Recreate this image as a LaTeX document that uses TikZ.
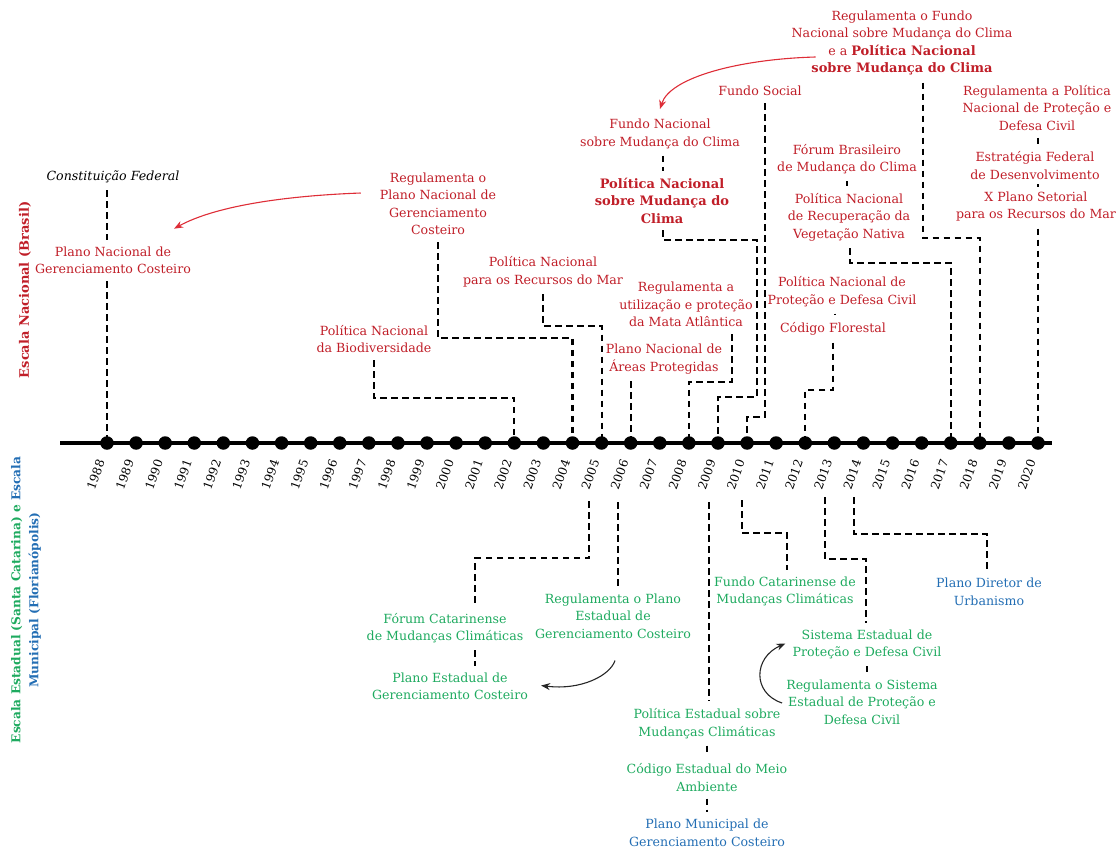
\documentclass[tikz,border=0pt]{standalone}
\usepackage{fontspec}
\setmainfont{DejaVu Serif}
\usetikzlibrary{calc,arrows.meta}
\pgfdeclarelayer{bg}
\pgfsetlayers{bg,main}
\definecolor{natred}{RGB}{192,30,40}
\definecolor{arrred}{RGB}{222,45,55}
\definecolor{estgreen}{RGB}{30,170,95}
\definecolor{munblue}{RGB}{35,110,180}
\newcommand\lblfont{\fontsize{12.6}{17.5}\selectfont}
\newcommand\bigbf[1]{{\fontsize{13}{17.5}\selectfont\bfseries #1}}
\tikzset{
  lbl/.style={align=center, inner sep=1pt, font=\lblfont},
  nat/.style={lbl, text=natred},
  est/.style={lbl, text=estgreen},
  mun/.style={lbl, text=munblue},
  conn/.style={line width=2.2pt, dash pattern=on 6.5pt off 4.5pt, shorten <=6pt, shorten >=6pt},
  axisline/.style={line width=4pt},
  yrlbl/.style={rotate=70, anchor=east, inner sep=0pt, font=\fontsize{12}{14}\selectfont},
  yrdot/.style={circle, fill=black, inner sep=0pt, minimum size=13.5pt},
  redarr/.style={draw=arrred, line width=1.1pt, -{Stealth[length=9pt,width=7pt]}},
  blkarr/.style={draw=black!85, line width=1.1pt, -{Stealth[length=9pt,width=7pt]}},
}
\begin{document}
\begin{tikzpicture}[x=1pt,y=-1pt]
\useasboundingbox (0,0) rectangle (1117,849);

% timeline: years, dots and labels
\foreach \yr [count=\i from 0] in {1988,...,2020}{
  \coordinate (y\yr) at ({107+\i*29.094},443);
  \node[yrdot] (d\yr) at (y\yr) {};
  \node[yrlbl] (l\yr) at ({101+\i*29.094},460) {\yr};
}
\coordinate (axL) at (60,443);
\coordinate (axR) at (1052,443);

% side titles
\node[rotate=90, text=natred, font=\fontsize{13}{17.5}\selectfont\bfseries] (scnat) at (25,290) {Escala Nacional (Brasil)};
\node[rotate=90, align=center, font=\fontsize{12.2}{18}\selectfont\bfseries] (scest) at (26,600)
  {\textcolor{estgreen}{Escala Estadual (Santa Catarina) e} \textcolor{munblue}{Escala}\\\textcolor{munblue}{Municipal (Florianópolis)}};

% national scale
\node[lbl, font=\lblfont\itshape] (const) at (113,177) {Constituição Federal};
\node[nat] (pngc) at (113,260.5) {Plano Nacional de\\Gerenciamento Costeiro};
\node[nat] (regpngc) at (438,204) {Regulamenta o\\Plano Nacional de\\Gerenciamento\\Costeiro};
\node[nat] (bio) at (374,339) {Política Nacional\\da Biodiversidade};
\node[nat] (mar) at (543,272) {Política Nacional\\para os Recursos do Mar};
\node[nat] (areas) at (664,359) {Plano Nacional de\\Áreas Protegidas};
\node[nat] (mata) at (686,304.5) {Regulamenta a\\utilização e proteção\\da Mata Atlântica};
\node[nat] (fnmc) at (660,134) {Fundo Nacional\\sobre Mudança do Clima};
\node[nat, font=\fontsize{13}{17.5}\selectfont\bfseries] (pnmc) at (662,200.5) {Política Nacional\\sobre Mudança do\\Clima};
\node[nat] (social) at (760,91) {Fundo Social};
\node[nat] (regfundo) at (902,43) {Regulamenta o Fundo\\Nacional sobre Mudança do Clima\\e a \bigbf{Política Nacional}\\\bigbf{sobre Mudança do Clima}};
\node[nat] (forumbr) at (847,159) {Fórum Brasileiro\\de Mudança do Clima};
\node[nat] (pnrvn) at (849,217) {Política Nacional\\de Recuperação da\\Vegetação Nativa};
\node[nat] (pnpdc) at (842,291.5) {Política Nacional de\\Proteção e Defesa Civil};
\node[nat] (florestal) at (833,329) {Código Florestal};
\node[nat] (regpnpdc) at (1037,108) {Regulamenta a Política\\Nacional de Proteção e\\Defesa Civil};
\node[nat] (efd) at (1035,165.5) {Estratégia Federal\\de Desenvolvimento};
\node[nat] (xplano) at (1036,206.5) {X Plano Setorial\\para os Recursos do Mar};

% state and municipal scale
\node[est] (forumsc) at (445,628) {Fórum Catarinense\\de Mudanças Climáticas};
\node[est] (pegc) at (450,686.5) {Plano Estadual de\\Gerenciamento Costeiro};
\node[est] (regpegc) at (613,616) {Regulamenta o Plano\\Estadual de\\Gerenciamento Costeiro};
\node[est] (pemc) at (707,723.5) {Política Estadual sobre\\Mudanças Climáticas};
\node[est] (cema) at (707,777.5) {Código Estadual do Meio\\Ambiente};
\node[mun] (pmgc) at (707,833) {Plano Municipal de\\Gerenciamento Costeiro};
\node[est] (fcmc) at (785,591.5) {Fundo Catarinense de\\Mudanças Climáticas};
\node[est] (sepdc) at (867,644.5) {Sistema Estadual de\\Proteção e Defesa Civil};
\node[est] (regsepdc) at (862,702) {Regulamenta o Sistema\\Estadual de Proteção e\\Defesa Civil};
\node[mun] (pdu) at (989,592) {Plano Diretor de\\Urbanismo};

% start points of the links below the year labels
\coordinate (s2005) at (589,495);
\coordinate (s2006) at (618,496);
\coordinate (s2009) at (709,496);
\coordinate (s2010) at (742,494);
\coordinate (s2013) at (825,491);
\coordinate (s2014) at (854,491);

\begin{pgfonlayer}{bg}
\draw[axisline] (axL) -- (axR);
% national links
\draw[conn] (const.south -| y1988) -- (pngc.north -| y1988);
\draw[conn] (pngc.south -| y1988) -- (y1988);
\draw[conn] (regpngc.south) -- (regpngc.south |- 0,338) -| (y2004);
\draw[conn] (bio.south) -- (bio.south |- 0,398) -| (y2002);
\draw[conn] (mar.south) -- (mar.south |- 0,326) -| (y2005);
\draw[conn] (areas.south -| y2006) -- (y2006);
\draw[conn] (mata.south -| 732,0) -- (732,382) -| (y2008);
\draw[conn] (fnmc.south -| 663,0) -- (pnmc.north -| 663,0);
\draw[conn] (pnmc.south -| 663,0) -- (663,240) -- (757,240) -- (757,397) -| (y2009);
\draw[conn] (social.south -| 765,0) -- (765,417) -| (y2010);
\draw[conn] (regfundo.south -| 923,0) -- (923,238) -| (y2018);
\draw[conn] (forumbr.south -| 847,0) -- (pnrvn.north -| 847,0);
\draw[conn] (pnrvn.south -| 850,0) -- (850,263) -| (y2017);
\draw[conn] (pnpdc.south -| 835,0) -- (florestal.north -| 835,0);
\draw[conn] (florestal.south -| 833,0) -- (833,390) -| (y2012);
\draw[conn] (regpnpdc.south -| y2020) -- (efd.north -| y2020);
\draw[conn] (efd.south -| y2020) -- (xplano.north -| y2020);
\draw[conn] (xplano.south -| y2020) -- (y2020);
% state and municipal links
\draw[conn] (s2005) |- (475,558) -- (forumsc.north -| 475,0);
\draw[conn] (forumsc.south -| 475,0) -- (pegc.north -| 475,0);
\draw[conn] (s2006) -- (regpegc.north -| s2006);
\draw[conn] (s2009) -- (pemc.north -| s2009);
\draw[conn] (pemc.south -| 707,0) -- (cema.north -| 707,0);
\draw[conn] (cema.south -| 707,0) -- (pmgc.north -| 707,0);
\draw[conn] (s2010) |- (787,533) -- (fcmc.north -| 787,0);
\draw[conn] (s2013) |- (866,559) -- (sepdc.north -| 866,0);
\draw[conn] (sepdc.south -| 867,0) -- (regsepdc.north -| 867,0);
\draw[conn] (s2014) |- (987,534) -- (pdu.north -| 987,0);
\end{pgfonlayer}

% regulation arrows
\draw[redarr] ($(regpngc.west)+(-18,-11)$) .. controls +(-80,3) and +(40,-22) .. ($(pngc.north east)+(-18,-17)$);
\draw[redarr] ($(regfundo.west)+(25,14)$) .. controls +(-75,2) and +(10,-32) .. ($(fnmc.north)+(0,-9)$);
\draw[blkarr] ($(regpegc.south)+(2,21)$) .. controls +(-5,15) and +(40,5) .. ($(pegc.east)+(12,-1)$);
\draw[blkarr] ($(regsepdc.west)+(-3,1)$) .. controls +(-30,-10) and +(-32,14) .. ($(sepdc.west)+(-6,-1)$);
\end{tikzpicture}
\end{document}
